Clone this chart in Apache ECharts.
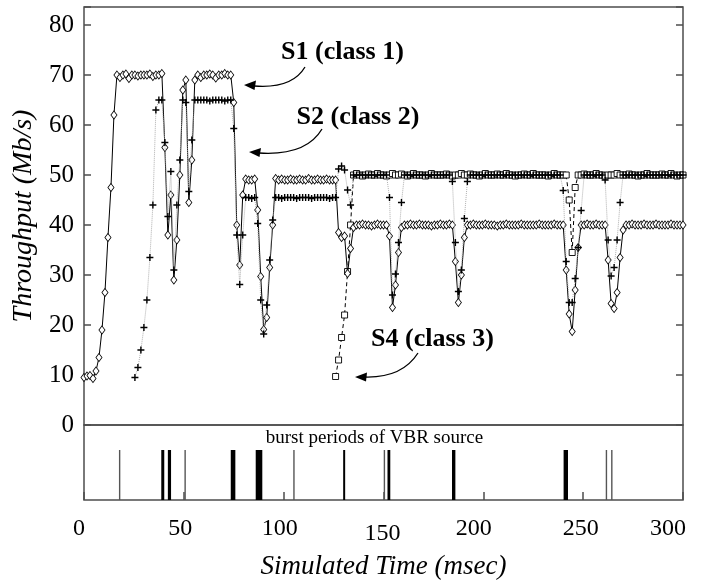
<!DOCTYPE html>
<html><head><meta charset="utf-8">
<script src="https://cdn.jsdelivr.net/npm/echarts@6/dist/echarts.min.js"></script>
<style>html,body{margin:0;padding:0;background:#fff}#c{width:703px;height:586px}</style>
</head><body><div id="c"></div>
<script>
// sampling grid of the simulation trace (msec), one sample every 1.5 msec
const time = Array.from({length: 201}, (_, i) => i * 1.5);

// S1 (class 1) throughput, Mb/s
const s1 = [
  9.5, 9.8, 9.9, 9.3, 10.8, 13.5, 19, 26.5, 37.5, 47.5,
  62, 70, 69.5, 70, 70.2, 69.3, 70, 70, 69.8, 70,
  70, 70, 70.2, 69.7, 70, 70, 70.3, 55.5, 38, 46,
  29, 37, 50, 67, 69, 44.5, 53, 69, 70, 69.5,
  70, 70, 70.2, 70, 69.4, 70, 70, 70.3, 70, 70,
  64.5, 40, 32, 46, 49.2, 49, 49, 49.2, 43, 29.7,
  19.1, 21.5, 31.5, 40, 49.3, 49, 49.2, 49, 49, 49.2,
  49, 49, 49.2, 49, 49, 49.3, 49, 49, 49.2, 49,
  49, 49.2, 49, 49, 49, 38.5, 37.5, 37.8, 30.3, 35.3,
  39.5, 40, 40, 40.2, 40, 40, 39.8, 40, 40.2, 40,
  40, 40, 37.8, 23.5, 28, 34.5, 39.5, 40, 40, 40.2,
  40, 40, 40.2, 40, 40, 40, 39.8, 40, 40, 40.2,
  40, 40, 40.2, 40, 32.7, 24.5, 30, 37.5, 40, 40,
  40.2, 40, 40, 40, 40.2, 40, 40, 40, 39.8, 40,
  40, 40.2, 40, 40, 40, 40, 40.2, 40, 40, 40,
  40, 40, 40.2, 40, 40, 40, 40, 40.2, 40, 40,
  40, 31, 22.2, 18.7, 27, 35.5, 40, 40, 40.2, 40,
  40, 40.2, 40, 40, 40, 33, 24.3, 23.3, 26.5, 33.5,
  39, 40, 40, 40.2, 40, 40, 40, 40.2, 40, 40,
  40, 40.2, 40, 40, 40, 40, 40.2, 40, 40, 40,
  40
];

// S2 (class 2) throughput, Mb/s
const s2 = [
  null, null, null, null, null, null, null, null, null, null,
  null, null, null, null, null, null, null, 9.5, 11.5, 15,
  19.5, 25, 33.5, 44, 63, 65, 65, 56.5, 41.7, 50.7,
  31, 44, 53, 65, 64.5, 46.7, 57, 65, 65, 65,
  65, 65, 64.8, 65, 65, 65, 65, 64.8, 65, 65,
  59.3, 38, 28.1, 38, 45.5, 45.5, 45.3, 45.5, 40.3, 25,
  18.2, 24, 33, 41, 45.5, 45.5, 45.3, 45.5, 45.5, 45.5,
  45.5, 45.3, 45.5, 45.5, 45.5, 45.5, 45.3, 45.5, 45.5, 45.5,
  45.5, 45.5, 45.3, 45.5, 45.5, 51.2, 51.8, 51, 47, 44,
  50, 50, 50, 50, 50, 50, 50, 50, 50, 50,
  50, 50, 45.5, 26, 30.2, 36.5, 44.5, 50, 50, 50,
  50, 50, 50, 50, 50, 50, 50, 50, 50, 50,
  50, 50, 50, 48.7, 36.5, 26.7, 31, 41.3, 48.7, 50,
  50, 50, 50, 50, 50, 50, 50, 50, 50, 50,
  50, 50, 50, 50, 50, 50, 50, 50, 50, 50,
  50, 50, 50, 50, 50, 50, 50, 50, 50, 50,
  46.9, 32.7, 24.5, 24.5, 29.3, 35.5, 42.9, 50, 50, 50,
  50, 50, 50, 50, 49, 37, 29.8, 31.5, 37, 44.5,
  50, 50, 50, 50, 50, 50, 50, 50, 50, 50,
  50, 50, 50, 50, 50, 50, 50, 50, 50, 50,
  50
];

// S4 (class 3) throughput, Mb/s
const s4 = [
  null, null, null, null, null, null, null, null, null, null,
  null, null, null, null, null, null, null, null, null, null,
  null, null, null, null, null, null, null, null, null, null,
  null, null, null, null, null, null, null, null, null, null,
  null, null, null, null, null, null, null, null, null, null,
  null, null, null, null, null, null, null, null, null, null,
  null, null, null, null, null, null, null, null, null, null,
  null, null, null, null, null, null, null, null, null, null,
  null, null, null, null, 9.7, 13, 17.5, 22, 30.7, 40,
  50, 50.3, 50, 49.8, 50, 50.2, 50, 50, 50.3, 50,
  50, 49.8, 50, 50.3, 50, 50, 50.2, 50, 49.8, 50,
  50.3, 50, 50, 50, 49.8, 50, 50.3, 50, 50, 50,
  50, 50.2, 50, 49.8, 50, 50, 50.3, 50, 50, 50.2,
  50, 50, 49.8, 50, 50.3, 50, 50, 50, 50.2, 50,
  50, 50.3, 50, 50, 49.8, 50, 50, 50.2, 50, 50,
  50.3, 50, 50, 50, 50, 49.8, 50, 50.3, 50, 50,
  50, 50, 45, 34.5, 47.5, 50, 50, 50.2, 50, 50,
  50, 50.3, 50, 50, 49.8, 50, 50, 50, 50.3, 50,
  50, 50, 50.2, 50, 50, 49.8, 50, 50, 50.3, 50,
  50, 50, 50, 50.2, 50, 50, 50.3, 50, 49.8, 50,
  50
];

// burst periods of the VBR source: [start, end] msec
const bursts = [
  [17.5, 18.2], [38.7, 40.2], [42.0, 43.6], [50.3, 51.0], [73.5, 75.8],
  [86.0, 89.3], [104.8, 105.5], [129.8, 130.8], [150.1, 150.8], [152.0, 153.4],
  [184.3, 186.0], [240.2, 242.4], [261.3, 262.0], [264.0, 264.7]
];

const yTicks = [0, 10, 20, 30, 40, 50, 60, 70, 80];
const xTicks = [0, 50, 100, 150, 200, 250, 300];

const FONT = 'Liberation Serif';
const FRAME = '#4d4d4d';
const PLUS = 'path://M4,0H6V4H10V6H6V10H4V6H0V4H4Z';

function pairs(vals) {
  const out = [];
  vals.forEach((v, i) => { if (v !== null) out.push([time[i], v]); });
  return out;
}

const xRich = {};
const xPad = {0: [0, 10, 0, 0], 50: [0, 7, 0, 0], 100: [0, 8, 0, 0], 150: [5, 2, 0, 0],
              200: [0, 19, 0, 0], 250: [0, 5, 0, 0], 300: [0, 30, 0, 0]};
xTicks.forEach(v => {
  xRich['l' + v] = {fontFamily: FONT, fontSize: 24, color: '#000', padding: xPad[v]};
});

const chart = echarts.init(document.getElementById('c'));
chart.setOption({
  animation: false,
  backgroundColor: '#fff',
  grid: [
    {left: 84, right: 20, top: 7, height: 418, show: true, borderColor: FRAME, borderWidth: 1.5, backgroundColor: 'transparent'},
    {left: 84, right: 20, top: 425, height: 75, show: true, borderColor: FRAME, borderWidth: 1.5, backgroundColor: 'transparent'}
  ],
  xAxis: [
    {gridIndex: 0, type: 'value', min: 0, max: 300, interval: 50,
     axisLine: {show: false}, axisTick: {show: false}, axisLabel: {show: false}, splitLine: {show: false}},
    {gridIndex: 1, type: 'value', min: 0, max: 300, interval: 50,
     axisLine: {show: false},
     axisTick: {show: true, inside: true, length: 8, lineStyle: {color: FRAME, width: 1.5}},
     axisLabel: {margin: 17, fontFamily: FONT, fontSize: 24, color: '#000',
                 formatter: v => '{l' + v + '|' + v + '}', rich: xRich},
     splitLine: {show: false},
     name: 'Simulated Time (msec)', nameLocation: 'middle', nameGap: 53,
     nameTextStyle: {fontFamily: FONT, fontSize: 27, fontStyle: 'italic', color: '#000'}}
  ],
  yAxis: [
    {gridIndex: 0, type: 'value', min: 0, max: 83.6, interval: 10,
     axisLine: {show: false},
     axisTick: {show: true, inside: true, length: 7, lineStyle: {color: FRAME, width: 1.5}},
     axisLabel: {margin: 10, fontFamily: FONT, fontSize: 25, color: '#000',
                 formatter: v => (yTicks.indexOf(v) >= 0 ? String(v) : '')},
     splitLine: {show: false},
     name: 'Throughput (Mb/s)', nameLocation: 'middle', nameGap: 46,
     nameTextStyle: {fontFamily: FONT, fontSize: 28, fontStyle: 'italic', color: '#000'}},
    {gridIndex: 0, type: 'value', min: 0, max: 83.6, interval: 10, position: 'right',
     axisLine: {show: false},
     axisTick: {show: true, inside: true, length: 7, lineStyle: {color: FRAME, width: 1.5}},
     axisLabel: {show: false}, splitLine: {show: false}},
    {gridIndex: 1, type: 'value', min: 0, max: 1.5, show: false}
  ],
  series: [
    {name: 'S4', type: 'line', xAxisIndex: 0, yAxisIndex: 0, data: pairs(s4),
     symbol: 'rect', symbolSize: 6, showAllSymbol: true,
     itemStyle: {color: '#fff', borderColor: '#000', borderWidth: 0.9},
     lineStyle: {color: '#000', width: 1, type: [4, 3]}, z: 3},
    {name: 'S1', type: 'line', xAxisIndex: 0, yAxisIndex: 0, data: pairs(s1),
     symbol: 'diamond', symbolSize: [6, 8], showAllSymbol: true,
     itemStyle: {color: '#fff', borderColor: '#000', borderWidth: 0.9},
     lineStyle: {color: '#000', width: 1}, z: 4},
    {name: 'S2', type: 'line', xAxisIndex: 0, yAxisIndex: 0, data: pairs(s2),
     symbol: PLUS, symbolSize: 7, showAllSymbol: true,
     itemStyle: {color: '#000'},
     lineStyle: {color: '#b0b0b0', width: 1, type: 'dotted'}, z: 5},
    {name: 'bursts', type: 'custom', xAxisIndex: 1, yAxisIndex: 2,
     data: bursts, encode: {x: [0, 1]},
     renderItem: function (params, api) {
       const p0 = api.coord([api.value(0), 0]);
       const p1 = api.coord([api.value(1), 1]);
       const w = Math.max(p1[0] - p0[0], 1.2);
       return {type: 'rect', shape: {x: p0[0], y: p1[1], width: w, height: p0[1] - p1[1]},
               style: {fill: w < 1.8 ? '#555' : '#000'}};
     }, z: 2}
  ],
  graphic: [
    {type: 'text', x: 374.5, y: 438, style: {text: 'burst periods of VBR source', font: '19px "Liberation Serif"', fill: '#000', align: 'center', verticalAlign: 'middle'}},
    {type: 'text', x: 342.5, y: 52, style: {text: 'S1 (class 1)', font: 'bold 26px "Liberation Serif"', fill: '#000', align: 'center', verticalAlign: 'middle'}},
    {type: 'text', x: 358, y: 117, style: {text: 'S2 (class 2)', font: 'bold 26px "Liberation Serif"', fill: '#000', align: 'center', verticalAlign: 'middle'}},
    {type: 'text', x: 432.5, y: 339, style: {text: 'S4 (class 3)', font: 'bold 26px "Liberation Serif"', fill: '#000', align: 'center', verticalAlign: 'middle'}},
    {type: 'bezierCurve', shape: {x1: 305, y1: 67, cpx1: 292, cpy1: 89, x2: 254, y2: 86}, style: {stroke: '#000', lineWidth: 1.3, fill: null}},
    {type: 'polygon', shape: {points: [[244, 85], [256, 80.5], [254.5, 90]]}, style: {fill: '#000'}},
    {type: 'bezierCurve', shape: {x1: 322, y1: 129, cpx1: 306, cpy1: 156, x2: 259, y2: 153}, style: {stroke: '#000', lineWidth: 1.3, fill: null}},
    {type: 'polygon', shape: {points: [[249, 152], [261, 148], [259.5, 157]]}, style: {fill: '#000'}},
    {type: 'bezierCurve', shape: {x1: 418, y1: 353, cpx1: 402, cpy1: 378, x2: 365, y2: 377}, style: {stroke: '#000', lineWidth: 1.3, fill: null}},
    {type: 'polygon', shape: {points: [[355, 377], [367, 372.5], [366, 381.5]]}, style: {fill: '#000'}}
  ]
});
</script>
</body></html>
